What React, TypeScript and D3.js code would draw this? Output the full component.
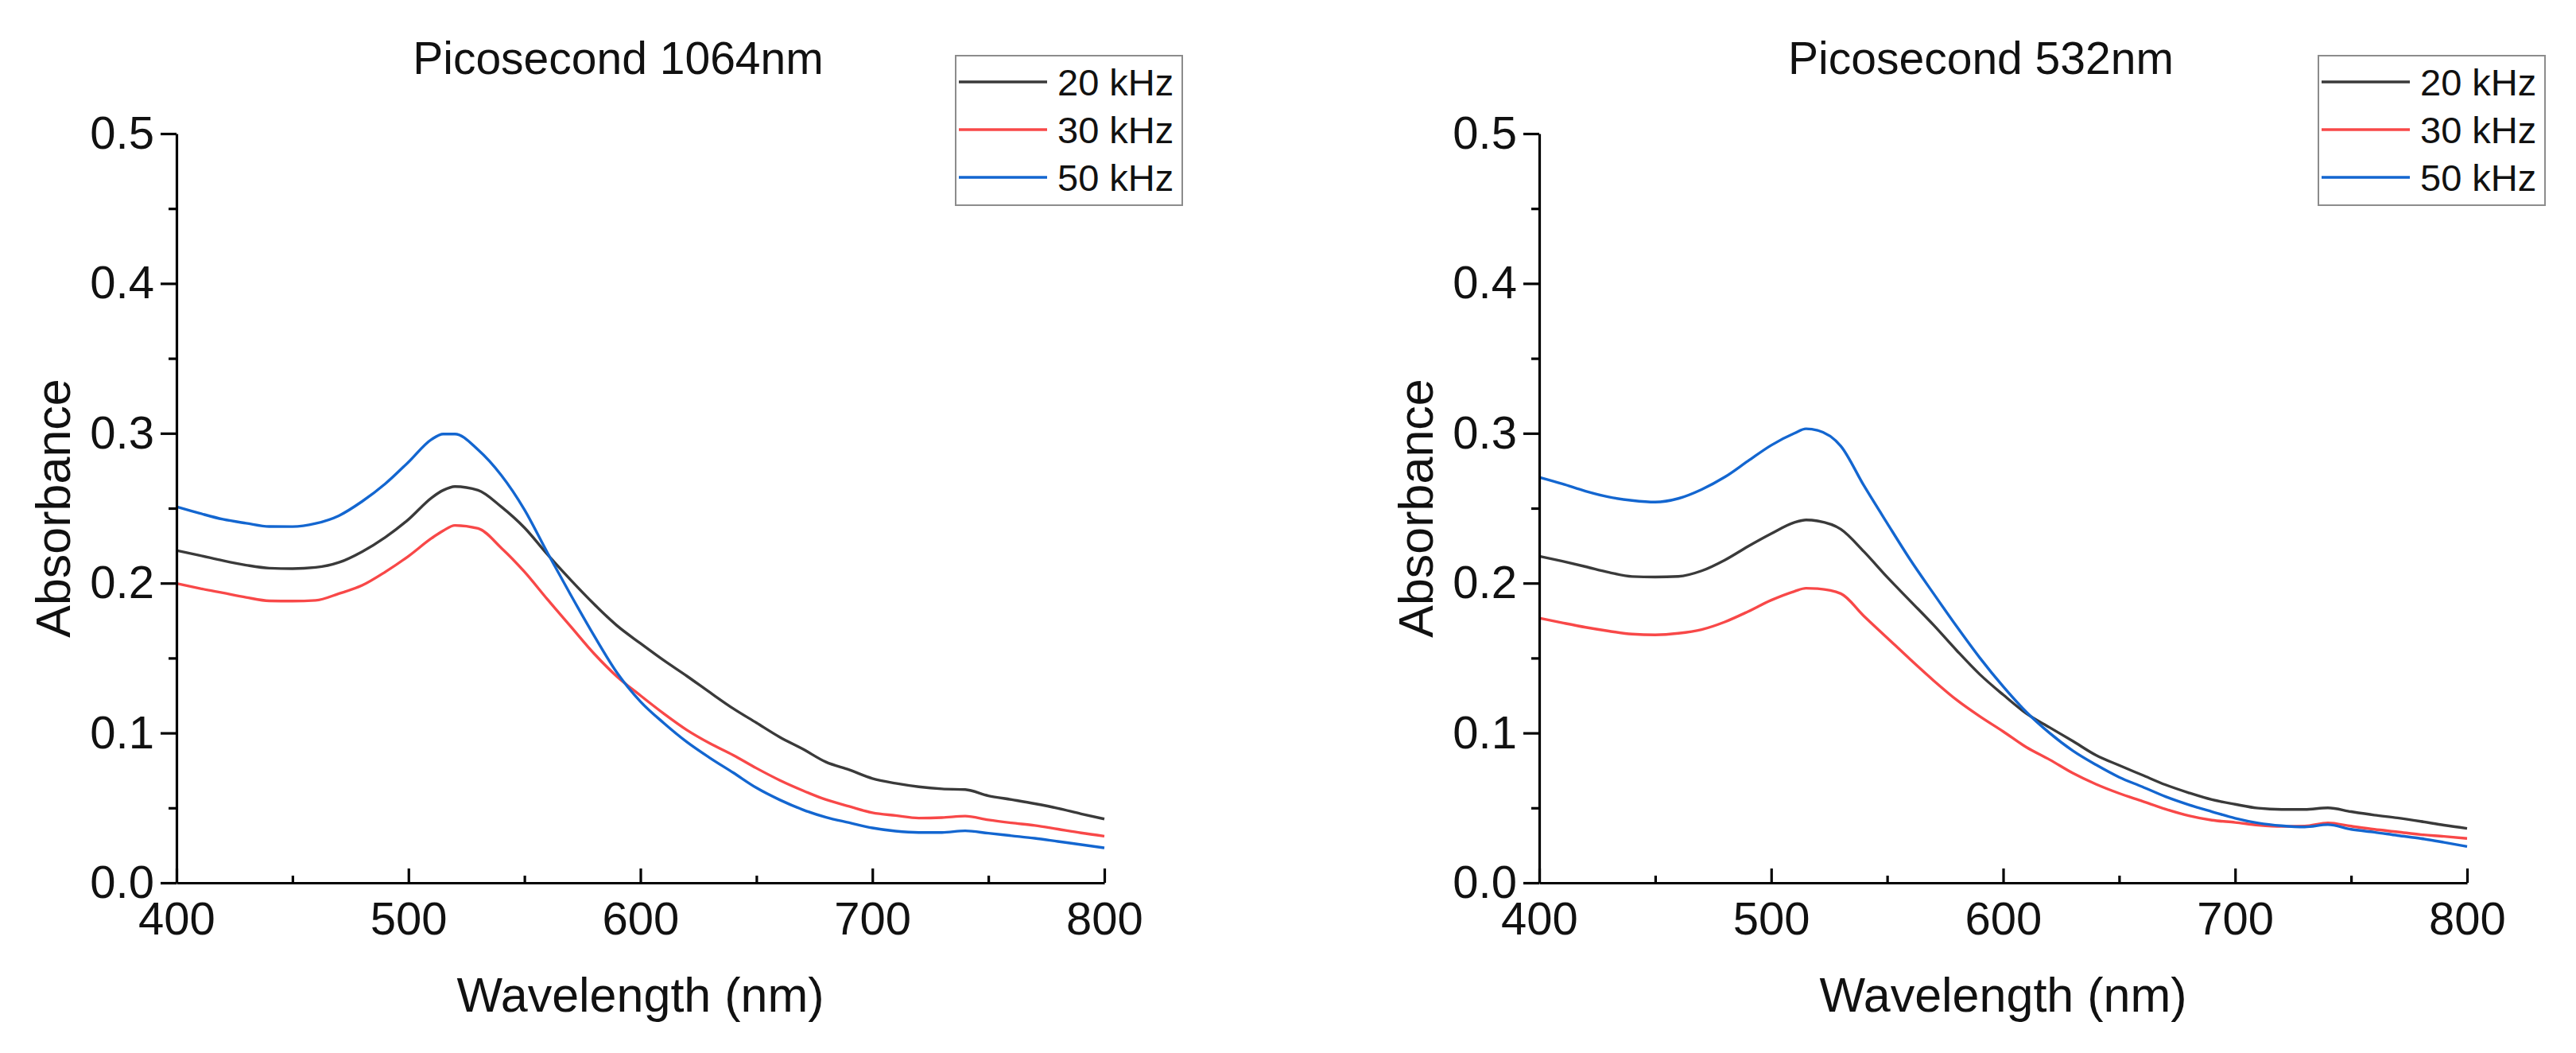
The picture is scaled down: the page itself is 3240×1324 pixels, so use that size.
import React, { useRef, useEffect } from "react";
import * as d3 from "d3";

// Wavelength grid (nm) used for every series
const wavelengths = [
    400, 410, 420, 430, 440, 450, 460, 470, 480, 490, 500, 510, 515, 520,
    530, 540, 550, 560, 570, 580, 590, 600, 610, 620, 630, 640, 650, 660,
    670, 680, 690, 700, 710, 720, 730, 740, 750, 760, 770, 780, 790, 800,
];

// Picosecond 1064nm
const ir20 = [
    0.2218, 0.2185, 0.215, 0.212, 0.21, 0.2097, 0.2105, 0.2138, 0.221, 0.2306,
    0.2425, 0.257, 0.262, 0.2645, 0.262, 0.251, 0.237, 0.219, 0.202, 0.186,
    0.1715, 0.1598, 0.1485, 0.138, 0.127, 0.1163, 0.1068, 0.0973, 0.0893,
    0.0806, 0.0754, 0.0696, 0.0664, 0.0641, 0.0627, 0.0622, 0.0581, 0.0555,
    0.0528, 0.0497, 0.046, 0.0426,
];
const ir30 = [
    0.1998, 0.1965, 0.1935, 0.1905, 0.1882, 0.188, 0.1885, 0.193, 0.1985,
    0.2075, 0.218, 0.23, 0.235, 0.2385, 0.2365, 0.2235, 0.2076, 0.189, 0.171,
    0.153, 0.1375, 0.125, 0.113, 0.102, 0.093, 0.0852, 0.0765, 0.0685, 0.0616,
    0.0555, 0.051, 0.0468, 0.0449, 0.0432, 0.0435, 0.0445, 0.042, 0.04, 0.0383,
    0.0358, 0.0333, 0.0311,
];
const ir50 = [
    0.251, 0.2466, 0.2426, 0.24, 0.2378, 0.2377, 0.2398, 0.245, 0.2545, 0.2663,
    0.2808, 0.296, 0.2995, 0.2995, 0.289, 0.272, 0.249, 0.22, 0.192, 0.165,
    0.14, 0.121, 0.1067, 0.094, 0.0833, 0.0735, 0.0634, 0.0554, 0.0488, 0.0437,
    0.0401, 0.0366, 0.0345, 0.0336, 0.0336, 0.0347, 0.0331, 0.0314, 0.0297,
    0.0276, 0.0255, 0.0233,
];

// Picosecond 532nm
const gr20 = [
    0.218, 0.2146, 0.211, 0.2072, 0.2044, 0.2041, 0.2045, 0.2082, 0.2154,
    0.2245, 0.233, 0.2405, 0.2422, 0.2415, 0.236, 0.221, 0.204, 0.188, 0.172,
    0.155, 0.139, 0.1255, 0.113, 0.1037, 0.0946, 0.0852, 0.0784, 0.0719,
    0.0654, 0.0601, 0.0555, 0.0524, 0.0498, 0.049, 0.049, 0.05, 0.0475, 0.0452,
    0.0433, 0.041, 0.0385, 0.0363,
];
const gr30 = [
    0.1767, 0.1735, 0.1705, 0.168, 0.166, 0.1655, 0.1665, 0.169, 0.1741, 0.181,
    0.1886, 0.1945, 0.1966, 0.1963, 0.193, 0.178, 0.1635, 0.149, 0.135, 0.122,
    0.111, 0.101, 0.0905, 0.0822, 0.0732, 0.0658, 0.0597, 0.0545, 0.0492,
    0.0448, 0.0418, 0.0403, 0.0385, 0.0376, 0.0378, 0.04, 0.0378, 0.0357,
    0.034, 0.0322, 0.031, 0.0296,
];
const gr50 = [
    0.2706, 0.2662, 0.2614, 0.2575, 0.2552, 0.2541, 0.2565, 0.2625, 0.2708,
    0.2815, 0.292, 0.3, 0.303, 0.302, 0.2915, 0.265, 0.24, 0.2155, 0.193, 0.171,
    0.15, 0.131, 0.114, 0.1, 0.0882, 0.0788, 0.0705, 0.0641, 0.0575, 0.0521,
    0.0475, 0.0431, 0.0399, 0.0381, 0.0373, 0.0388, 0.0357, 0.0338, 0.0316,
    0.0296, 0.027, 0.0242,
];

const seriesNames = ["20 kHz", "30 kHz", "50 kHz"];
const seriesColors = ["#3a3a3a", "#f84848", "#1366d0"];
const panelTitles = ["Picosecond 1064nm", "Picosecond 532nm"];
const xTicks = [400, 500, 600, 700, 800];
const xMinorTicks = [450, 550, 650, 750];
const yTicks = [0, 0.1, 0.2, 0.3, 0.4, 0.5];
const yMinorTicks = [0.05, 0.15, 0.25, 0.35, 0.45];

const FONT = "'Liberation Sans', Arial, sans-serif";

const App = () => {
    const ref = useRef<SVGSVGElement | null>(null);

    useEffect(() => {
        const svg = d3.select(ref.current);
        svg.selectAll("*").remove();

        const panels = [
            { left: 222, title: panelTitles[0], data: [ir20, ir30, ir50] },
            { left: 1936, title: panelTitles[1], data: [gr20, gr30, gr50] },
        ];
        const plotW = 1167;
        const top = 168;
        const bottom = 1110;

        panels.forEach((p) => {
            const x = d3.scaleLinear().domain([400, 800]).range([p.left, p.left + plotW]);
            const y = d3.scaleLinear().domain([0, 0.5]).range([bottom, top]);
            const g = svg.append("g");

            // curves
            const line = d3
                .line<number>()
                .x((_, i) => x(wavelengths[i]))
                .y((d) => y(d))
                .curve(d3.curveMonotoneX);
            p.data.forEach((vals, k) => {
                g.append("path")
                    .datum(vals)
                    .attr("fill", "none")
                    .attr("stroke", seriesColors[k])
                    .attr("stroke-width", 3.4)
                    .attr("stroke-linejoin", "round")
                    .attr("d", line as any);
            });

            // x axis, ticks pointing inward
            const xa = g
                .append("g")
                .attr("transform", `translate(0,${bottom})`)
                .call(
                    d3
                        .axisBottom(x)
                        .tickValues(xTicks)
                        .tickSizeInner(-18)
                        .tickSizeOuter(0)
                        .tickPadding(24)
                        .tickFormat(d3.format("d"))
                );
            g.append("g")
                .attr("transform", `translate(0,${bottom})`)
                .call(d3.axisBottom(x).tickValues(xMinorTicks).tickSizeInner(-9).tickSizeOuter(0).tickFormat(() => ""))
                .call((s) => s.select(".domain").remove());

            // y axis, ticks pointing outward
            const ya = g
                .append("g")
                .attr("transform", `translate(${p.left},0)`)
                .call(
                    d3
                        .axisLeft(y)
                        .tickValues(yTicks)
                        .tickSizeInner(20)
                        .tickSizeOuter(0)
                        .tickPadding(8)
                        .tickFormat(d3.format(".1f"))
                );
            g.append("g")
                .attr("transform", `translate(${p.left},0)`)
                .call(d3.axisLeft(y).tickValues(yMinorTicks).tickSizeInner(10).tickSizeOuter(0).tickFormat(() => ""))
                .call((s) => s.select(".domain").remove());

            g.selectAll(".domain, .tick line")
                .attr("stroke", "#000")
                .attr("stroke-width", 3.2);
            [xa, ya].forEach((a) =>
                a.selectAll("text")
                    .attr("font-family", FONT)
                    .attr("font-size", 58)
                    .attr("fill", "#111")
            );

            const cx = p.left + plotW / 2;

            // titles and axis labels
            g.append("text")
                .attr("x", cx - 28)
                .attr("y", 93)
                .attr("text-anchor", "middle")
                .attr("font-family", FONT)
                .attr("font-size", 57)
                .attr("fill", "#111")
                .text(p.title);
            g.append("text")
                .attr("x", cx)
                .attr("y", 1272)
                .attr("text-anchor", "middle")
                .attr("font-family", FONT)
                .attr("font-size", 61)
                .attr("fill", "#111")
                .text("Wavelength (nm)");
            g.append("text")
                .attr("transform", `translate(${p.left - 134},${(top + bottom) / 2}) rotate(-90)`)
                .attr("text-anchor", "middle")
                .attr("font-family", FONT)
                .attr("font-size", 61)
                .attr("fill", "#111")
                .text("Absorbance");

            // legend
            const lx = p.left + 980;
            const lg = g.append("g").attr("transform", `translate(${lx},70)`);
            lg.append("rect")
                .attr("width", 285)
                .attr("height", 188)
                .attr("fill", "#fff")
                .attr("stroke", "#8c8c8c")
                .attr("stroke-width", 2);
            seriesNames.forEach((name, k) => {
                const cy = 33 + k * 60;
                lg.append("line")
                    .attr("x1", 4)
                    .attr("x2", 115)
                    .attr("y1", cy)
                    .attr("y2", cy)
                    .attr("stroke", seriesColors[k])
                    .attr("stroke-width", 3.4);
                lg.append("text")
                    .attr("x", 128)
                    .attr("y", cy + 17)
                    .attr("font-family", FONT)
                    .attr("font-size", 47)
                    .attr("fill", "#111")
                    .text(name);
            });
        });
    }, []);

    return (
        <svg
            ref={ref}
            width={3240}
            height={1324}
            style={{ position: "absolute", left: 0, top: 0, background: "#fff" }}
        />
    );
};

export default App;
